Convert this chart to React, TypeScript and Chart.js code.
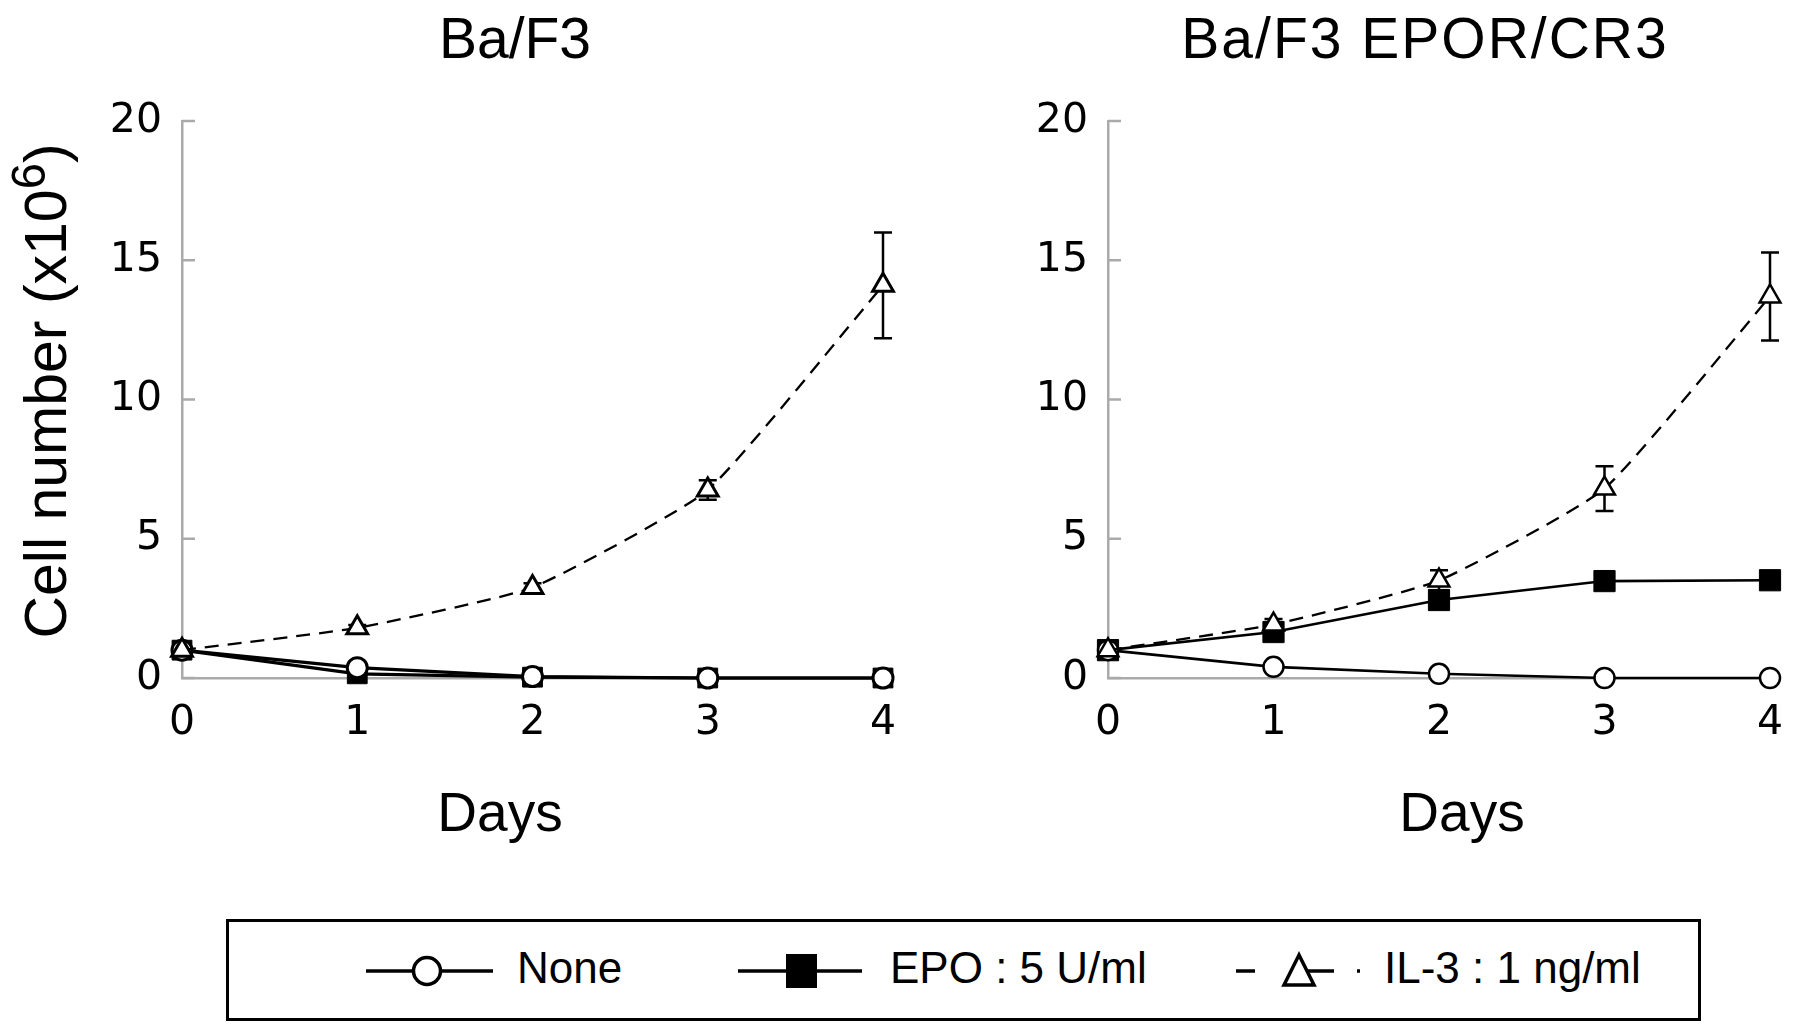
import React, { useEffect, useRef } from "react";
import { Chart, registerables } from "chart.js";

Chart.register(...registerables);

// ---------- data ----------
const days = [0, 1, 2, 3, 4];
const seriesNames = ["None", "EPO : 5 U/ml", "IL-3 : 1 ng/ml"];
const panelTitles = ["Ba/F3", "Ba/F3 EPOR/CR3"];
const xTitle = "Days";

const baf3None = [1.0, 0.37, 0.05, 0.0, 0.0];
const baf3Epo = [1.0, 0.15, 0.03, 0.0, 0.0];
const baf3Il3 = [1.0, 1.8, 3.25, 6.75, 14.1];
const baf3Il3Err = [0, 0.1, 0.15, 0.35, 1.9];

const cr3None = [1.0, 0.4, 0.15, 0.0, 0.0];
const cr3Epo = [1.0, 1.65, 2.8, 3.48, 3.51];
const cr3Il3 = [1.0, 1.92, 3.5, 6.8, 13.7];
const cr3Il3Err = [0, 0.2, 0.37, 0.8, 1.58];

const yMin = 0;
const yMax = 20;
const yStep = 5;

type PanelProps = {
  none: number[];
  epo: number[];
  il3: number[];
  err: number[];
  left: number;
  width: number;
  height: number;
  yAxisWidth: number;
  padRight: number;
  lineWidth: number;
  markerBorder: number;
  circleR: number;
  rectR: number;
  triR: number;
};

function Panel(p: PanelProps) {
  const ref = useRef<HTMLCanvasElement>(null);
  useEffect(() => {
    if (!ref.current) return;
    const toPts = (arr: number[]) => days.map((d, i) => ({ x: d, y: arr[i] }));

    const errorBars = {
      id: "errorBars",
      beforeDatasetsDraw(chart: any) {
        const meta = chart.getDatasetMeta(2);
        const ys = chart.scales.y;
        const ctx = chart.ctx;
        ctx.save();
        ctx.strokeStyle = "#000";
        ctx.lineWidth = 2.5;
        ctx.setLineDash([]);
        p.err.forEach((e, i) => {
          if (!e) return;
          const pt = meta.data[i];
          if (!pt) return;
          const x = pt.x;
          const v = p.il3[i];
          const yt = ys.getPixelForValue(v + e);
          const yb = ys.getPixelForValue(v - e);
          ctx.beginPath();
          ctx.moveTo(x, yt);
          ctx.lineTo(x, yb);
          ctx.moveTo(x - 9, yt);
          ctx.lineTo(x + 9, yt);
          ctx.moveTo(x - 9, yb);
          ctx.lineTo(x + 9, yb);
          ctx.stroke();
        });
        ctx.restore();
      },
    };

    const innerTicks = {
      id: "innerTicks",
      beforeDatasetsDraw(chart: any) {
        const ys = chart.scales.y;
        const ctx = chart.ctx;
        const left = chart.chartArea.left;
        ctx.save();
        ctx.strokeStyle = "#aaaaaa";
        ctx.lineWidth = 2.5;
        ys.ticks.forEach((t: any) => {
          const y = ys.getPixelForValue(t.value);
          ctx.beginPath();
          ctx.moveTo(left, y);
          ctx.lineTo(left + 13, y);
          ctx.stroke();
        });
        ctx.restore();
      },
    };

    const tickFont = { family: "'DejaVu Sans', sans-serif", size: 41 };

    const chart = new Chart(ref.current, {
      type: "line",
      data: {
        datasets: [
          {
            label: seriesNames[0],
            data: toPts(p.none),
            borderColor: "#000",
            borderWidth: p.lineWidth,
            pointStyle: "circle",
            pointRadius: p.circleR,
            pointBackgroundColor: "#fff",
            pointBorderColor: "#000",
            pointBorderWidth: p.markerBorder,
            tension: 0,
            order: 1,
            clip: false,
          },
          {
            label: seriesNames[1],
            data: toPts(p.epo),
            borderColor: "#000",
            borderWidth: p.lineWidth,
            pointStyle: "rect",
            pointRadius: p.rectR,
            pointBackgroundColor: "#000",
            pointBorderColor: "#000",
            pointBorderWidth: 1,
            tension: 0,
            order: 2,
            clip: false,
          },
          {
            label: seriesNames[2],
            data: toPts(p.il3),
            borderColor: "#000",
            borderWidth: 2.3,
            borderDash: [14, 9],
            pointStyle: "triangle",
            pointRadius: p.triR,
            pointBackgroundColor: "#fff",
            pointBorderColor: "#000",
            pointBorderWidth: p.markerBorder,
            tension: 0.15,
            order: 0,
            clip: false,
          },
        ] as any,
      },
      options: {
        animation: false,
        responsive: false,
        devicePixelRatio: 1,
        layout: { padding: { left: 0, top: 121, right: p.padRight, bottom: 0 } },
        plugins: {
          legend: { display: false },
          title: { display: false },
          tooltip: { enabled: false },
        },
        scales: {
          x: {
            type: "linear",
            min: 0,
            max: 4,
            ticks: {
              stepSize: 1,
              font: tickFont,
              color: "#000",
              padding: 21,
              maxRotation: 0,
              autoSkip: false,
            },
            grid: { display: false, drawTicks: false },
            border: { display: true, color: "#aaaaaa", width: 2.5 },
            afterFit: (s: any) => {
              s.height = p.height - 678;
            },
          },
          y: {
            type: "linear",
            min: yMin,
            max: yMax,
            ticks: {
              stepSize: yStep,
              font: tickFont,
              color: "#000",
              padding: 20,
            },
            grid: { display: false, drawTicks: false },
            border: { display: true, color: "#aaaaaa", width: 2.5 },
            afterFit: (s: any) => {
              s.width = p.yAxisWidth;
            },
          },
        },
      } as any,
      plugins: [innerTicks, errorBars],
    });
    return () => chart.destroy();
  }, []);
  return (
    <canvas
      ref={ref}
      width={p.width}
      height={p.height}
      style={{ position: "absolute", left: p.left, top: 0, width: p.width, height: p.height, display: "block" }}
    />
  );
}

const sans = "'Liberation Sans', Arial, Helvetica, sans-serif";

function TextAt(props: {
  x: number;
  top: number;
  size: number;
  children: any;
  align?: "center" | "left";
  w?: number;
  spacing?: number;
}) {
  const w = props.w ?? 800;
  const left = props.align === "left" ? props.x : props.x - w / 2;
  return (
    <div
      style={{
        position: "absolute",
        left,
        top: props.top,
        width: w,
        height: props.size,
        lineHeight: props.size + "px",
        fontSize: props.size,
        fontFamily: sans,
        textAlign: props.align === "left" ? "left" : "center",
        whiteSpace: "nowrap",
        letterSpacing: props.spacing ? props.spacing + "px" : undefined,
        color: "#000",
      }}
    >
      {props.children}
    </div>
  );
}

function Legend() {
  const textTop = 946;
  const fs = 44;
  return (
    <>
      <div
        style={{
          position: "absolute",
          left: 226,
          top: 919,
          width: 1701 - 226,
          height: 102,
          border: "3px solid #000",
          boxSizing: "border-box",
        }}
      />
      <svg style={{ position: "absolute", left: 366, top: 951 }} width={128} height={40}>
        <line x1={0} y1={20} x2={127} y2={20} stroke="#000" strokeWidth={3.5} />
        <circle cx={61} cy={20} r={13.5} fill="#fff" stroke="#000" strokeWidth={3.5} />
      </svg>
      <TextAt x={517} top={textTop} size={fs} align="left">{seriesNames[0]}</TextAt>
      <svg style={{ position: "absolute", left: 738, top: 951 }} width={126} height={40}>
        <line x1={0} y1={20} x2={124} y2={20} stroke="#000" strokeWidth={3.5} />
        <rect x={48} y={3} width={31} height={34} fill="#000" />
      </svg>
      <TextAt x={890} top={textTop} size={fs} align="left">{seriesNames[1]}</TextAt>
      <svg style={{ position: "absolute", left: 1236, top: 951 }} width={132} height={40}>
        <line x1={0} y1={20} x2={19} y2={20} stroke="#000" strokeWidth={3.5} />
        <line x1={60} y1={20} x2={98} y2={20} stroke="#000" strokeWidth={3.5} />
        <line x1={121} y1={20} x2={124} y2={20} stroke="#000" strokeWidth={3.5} />
        <polygon points="63,4 48,34 78,34" fill="#fff" stroke="#000" strokeWidth={3.5} />
      </svg>
      <TextAt x={1384} top={textTop} size={fs} align="left">{seriesNames[2]}</TextAt>
    </>
  );
}

export default function App() {
  useEffect(() => {
    document.body.style.margin = "0";
  }, []);
  return (
    <div
      style={{
        position: "absolute",
        left: 0,
        top: 0,
        width: 1795,
        height: 1035,
        background: "#fff",
        overflow: "hidden",
        fontFamily: sans,
      }}
    >
      <Panel
        none={baf3None}
        epo={baf3Epo}
        il3={baf3Il3}
        err={baf3Il3Err}
        left={0}
        width={930}
        height={780}
        yAxisWidth={182}
        padRight={930 - 883}
        lineWidth={3.2}
        markerBorder={3}
        circleR={10}
        rectR={14}
        triR={12}
      />
      <Panel
        none={cr3None}
        epo={cr3Epo}
        il3={cr3Il3}
        err={cr3Il3Err}
        left={930}
        width={890}
        height={780}
        yAxisWidth={1108 - 930}
        padRight={890 - (1770 - 930)}
        lineWidth={2.6}
        markerBorder={2.5}
        circleR={10}
        rectR={15}
        triR={12}
      />
      <TextAt x={515} top={10} size={57}>{panelTitles[0]}</TextAt>
      <TextAt x={1425} top={10} size={57} spacing={2}>{panelTitles[1]}</TextAt>
      <TextAt x={500} top={785} size={55}>{xTitle}</TextAt>
      <TextAt x={1462} top={785} size={55}>{xTitle}</TextAt>
      <div
        style={{
          position: "absolute",
          left: 46 - 350,
          top: 391 - 29,
          width: 700,
          height: 58,
          lineHeight: "58px",
          fontSize: 59,
          fontFamily: sans,
          textAlign: "center",
          whiteSpace: "nowrap",
          transform: "rotate(-90deg)",
          transformOrigin: "50% 50%",
          color: "#000",
        }}
      >
        Cell number (x10<sup style={{ fontSize: "0.8em", lineHeight: 0 }}>6</sup>)
      </div>
      <Legend />
    </div>
  );
}
